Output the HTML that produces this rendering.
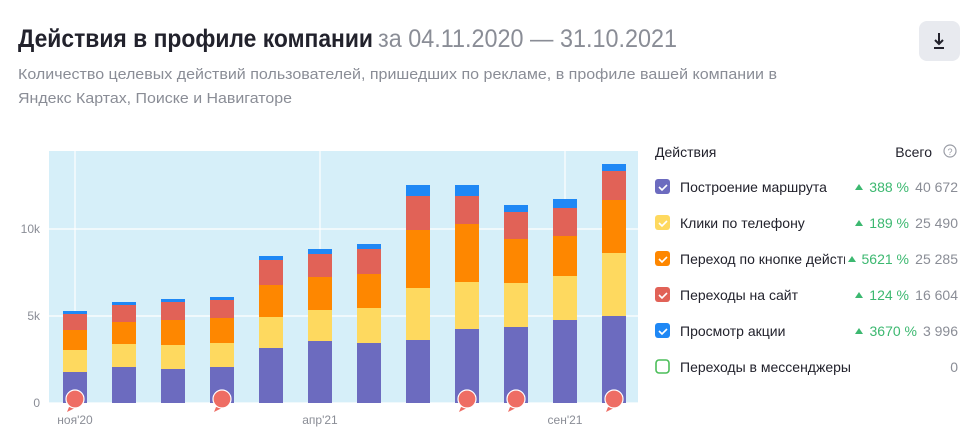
<!DOCTYPE html>
<html><head><meta charset="utf-8"><style>
body{margin:0;background:#fff;}
svg{display:block;font-family:"Liberation Sans",sans-serif;}
</style></head><body>
<svg width="976" height="446" viewBox="0 0 976 446" xmlns="http://www.w3.org/2000/svg">
<text x="18" y="47" font-size="25" font-weight="bold" fill="#22222c" textLength="355" lengthAdjust="spacingAndGlyphs">Действия в профиле компании</text>
<text x="378" y="47" font-size="25" fill="#8a8d96" textLength="299" lengthAdjust="spacingAndGlyphs">за 04.11.2020 — 31.10.2021</text>
<text x="18" y="79" font-size="15" fill="#8a8d96" textLength="759" lengthAdjust="spacingAndGlyphs">Количество целевых действий пользователей, пришедших по рекламе, в профиле вашей компании в</text>
<text x="18" y="103" font-size="15" fill="#8a8d96" textLength="274" lengthAdjust="spacingAndGlyphs">Яндекс Картах, Поиске и Навигаторе</text>
<rect x="919" y="21" width="41" height="40" rx="8" fill="#e8eaef"/>
<path d="M939 33v11M935 40l4 4 4-4M934 48h10" stroke="#22222c" stroke-width="2" fill="none"/>

<rect x="49" y="151" width="589" height="252" fill="#d6eff9"/>
<g stroke="#fff" stroke-width="1.2">
<line x1="49" y1="316" x2="638" y2="316"/><line x1="49" y1="229" x2="638" y2="229"/><line x1="49" y1="403" x2="638" y2="403"/>
<line x1="75" y1="151" x2="75" y2="403"/><line x1="320" y1="151" x2="320" y2="403"/><line x1="565" y1="151" x2="565" y2="403"/>
</g>
<g font-size="12" fill="#8a8d96" text-anchor="end">
<text x="40" y="233">10k</text><text x="40" y="320">5k</text><text x="40" y="407">0</text>
</g>
<g font-size="12" fill="#8a8d96" text-anchor="middle">
<text x="75" y="424">ноя'20</text><text x="320" y="424">апр'21</text><text x="565" y="424">сен'21</text>
</g>
<g id="bars"></g>
<g id="pins"></g>

<g font-size="14" fill="#22222c">
<text x="655" y="157">Действия</text>
<text x="932" y="157" text-anchor="end">Всего</text>
</g>
<circle cx="950" cy="151" r="6" fill="none" stroke="#9a9da6" stroke-width="1.2"/>
<text x="950" y="155" font-size="9" fill="#9a9da6" text-anchor="middle">?</text>
<g id="leg"></g>
</svg>
<script>
const ns="http://www.w3.org/2000/svg";
function el(p,t,a,txt){const e=document.createElementNS(ns,t);for(const k in a)e.setAttribute(k,a[k]);if(txt!=null)e.textContent=txt;p.appendChild(e);return e;}
const cols=["#6c6bbf","#fed95f","#fe8700","#e16257","#1f88f5"];
const data=[[372,350,330,314,311],[367,344,322,305,302],[369,345,320,302,299],[367,343,318,300,297],[348,317,285,260,256],[341,310,277,254,249],[343,308,274,249,244],[340,288,230,196,185],[329,282,224,196,185],[327,283,239,212,205],[320,276,236,208,199],[316,253,200,171,164]];
const bars=document.getElementById("bars");
data.forEach((d,i)=>{const cx=75+i*49;let prev=403;d.forEach((y,j)=>{el(bars,"rect",{x:cx-12,y:y,width:24,height:prev-y,fill:cols[j]});prev=y;});});
const pins=document.getElementById("pins");
[0,3,8,9,11].forEach(i=>{const cx=75+i*49;el(pins,"path",{d:`M${cx-6} ${407} L${cx-8} ${412} L${cx} ${408} Z`,fill:"#ee6d64"});el(pins,"circle",{cx:cx,cy:399,r:9,fill:"#ee6d64",stroke:"#fff","stroke-width":1.2});});
const leg=document.getElementById("leg");
const L=[["Построение маршрута","388 %","40 672",cols[0]],["Клики по телефону","189 %","25 490",cols[1]],["Переход по кнопке действ","5621 %","25 285",cols[2]],["Переходы на сайт","124 %","16 604",cols[3]],["Просмотр акции","3670 %","3 996",cols[4]],["Переходы в мессенджеры","","0",null]];
L.forEach((r,i)=>{const y=187+i*36;
 if(r[3]){el(leg,"rect",{x:655,y:y-8,width:15,height:15,rx:3,fill:r[3]});el(leg,"path",{d:`M659 ${y} l3 3 l5 -5`,stroke:"#fff","stroke-width":1.6,fill:"none"});}
 else el(leg,"rect",{x:656,y:y-7,width:13,height:13,rx:3,fill:"none",stroke:"#4cbe5a","stroke-width":1.6});
 el(leg,"text",{x:680,y:y+5,"font-size":14,fill:"#22222c"},r[0]);
 if(r[1]){const px=i==2?853:i==4?871:874;
  el(leg,"rect",{x:845,y:y-10,width:20,height:20,fill:"#fff"});
  el(leg,"path",{d:`M${i==2?848:855} ${y+3} l4 -6 l4 6 z`,fill:"#3cb870"});
  el(leg,"text",{x:i==4?917:909,y:y+5,"font-size":14,fill:"#3cb870","text-anchor":"end"},r[1]);}
 el(leg,"text",{x:958,y:y+5,"font-size":14,fill:"#8a8d96","text-anchor":"end"},r[2]);
});
</script>
</body></html>
